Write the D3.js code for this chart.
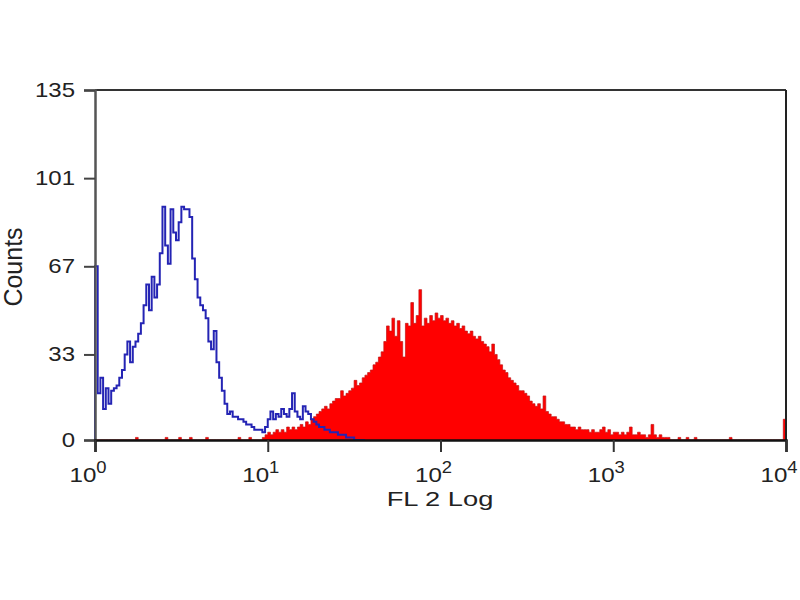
<!DOCTYPE html>
<html>
<head>
<meta charset="utf-8">
<script src="https://cdn.jsdelivr.net/npm/d3@7"></script>
<style>
  body { margin: 0; background: #fff; }
  svg { display: block; }
  text { font-family: "Liberation Sans", Arial, sans-serif; fill: #222; }
</style>
</head>
<body>
<svg id="chart" width="800" height="600"></svg>
<script>
// ---- data (256 log channels over 4 decades) ----
const nChannels = 256;
const yTicks = [0, 33, 67, 101, 135];
const xDecades = [0, 1, 2, 3, 4];
const xLabel = "FL 2 Log";
const yLabel = "Counts";

// Blue (control) histogram, channels 0..99
const blueCounts = [
  67, 18, 24, 12, 20, 14, 19, 20, 21, 24,
  27, 33, 38, 30, 36, 38, 41, 45, 52, 60,
  50, 63, 55, 60, 72, 90, 75, 68, 89, 80,
  77, 84, 90, 89, 89, 86, 70, 62, 55, 52,
  50, 47, 38, 35, 42, 30, 24, 19, 14, 10,
  11, 9, 9, 8, 8, 7, 6, 6, 5, 4,
  4, 4, 3, 5, 8, 11, 8, 10, 9, 12,
  10, 9, 12, 18, 11, 9, 8, 13, 11, 10,
  8, 7, 6, 5, 5, 4, 4, 3, 3, 3,
  2, 2, 2, 1, 1, 1, 0, 0, 0, 0
];

// Red (stained) histogram, channels 0..255
const redCounts = [
  0, 0, 0, 0, 0, 0, 0, 0, 0, 0,
  0, 0, 0, 0, 0, 1, 0, 0, 0, 0,
  0, 0, 0, 0, 0, 0, 1, 0, 0, 0,
  0, 1, 0, 0, 0, 1, 0, 0, 0, 0,
  0, 1, 0, 0, 0, 0, 0, 0, 0, 0,
  0, 0, 0, 1, 0, 0, 0, 1, 0, 0,
  0, 0, 1, 2, 3, 2, 3, 4, 3, 4,
  3, 5, 4, 5, 4, 5, 6, 5, 7, 6,
  8, 9, 10, 11, 12, 13, 12, 14, 15, 16,
  16, 19, 17, 18, 19, 20, 23, 21, 22, 24,
  25, 26, 27, 29, 30, 32, 34, 38, 44, 42,
  47, 40, 46, 38, 32, 45, 44, 53, 45, 48,
  58, 44, 47, 45, 48, 46, 49, 47, 48, 46,
  47, 45, 46, 44, 45, 43, 44, 42, 41, 42,
  40, 39, 40, 38, 37, 36, 34, 37, 33, 31,
  29, 27, 26, 24, 23, 22, 21, 19, 19, 18,
  17, 15, 14, 13, 14, 12, 17, 11, 10, 9,
  9, 8, 7, 7, 6, 6, 5, 5, 4, 5,
  4, 4, 4, 3, 4, 3, 3, 4, 5, 3,
  4, 2, 3, 3, 2, 3, 2, 3, 5, 2,
  2, 3, 2, 2, 1, 2, 6, 2, 1, 2,
  1, 1, 1, 0, 0, 0, 1, 0, 0, 1,
  0, 0, 1, 0, 0, 0, 0, 0, 0, 0,
  0, 0, 0, 0, 0, 1, 0, 0, 0, 0,
  0, 0, 0, 0, 0, 0, 0, 0, 0, 0,
  0, 0, 0, 0, 0, 8
];

// ---- layout ----
const svg = d3.select("#chart");
const plotL = 95, plotR = 786, plotT = 90, plotB = 440;

const x = d3.scaleLog().domain([1, 1e4]).range([plotL, plotR]);
const y = d3.scaleLinear().domain([0, 135]).range([plotB, plotT]);

// channel -> edge value
const edge = c => Math.pow(10, c * 4 / nChannels);

function stepPoints(arr) {
  const pts = [];
  arr.forEach((v, i) => {
    pts.push([edge(i), v]);
    pts.push([edge(i + 1), v]);
  });
  return pts;
}

// red filled histogram
const redPts = stepPoints(redCounts);
const area = d3.area()
  .x(d => x(d[0]))
  .y0(y(0))
  .y1(d => y(d[1]));
svg.append("path")
  .attr("d", area(redPts))
  .attr("fill", "#ff0000")
  .attr("stroke", "#c41414")
  .attr("stroke-width", 0.7);

// blue line histogram
const bluePts = [[edge(0), 0]].concat(stepPoints(blueCounts));
const line = d3.line()
  .x(d => x(d[0]))
  .y(d => y(d[1]));
svg.append("path")
  .attr("d", line(bluePts))
  .attr("fill", "none")
  .attr("stroke", "#2424b4")
  .attr("stroke-width", 2)
  .attr("stroke-linejoin", "miter");

// frame (top and right)
svg.append("line").attr("x1", plotL).attr("x2", plotR).attr("y1", plotT).attr("y2", plotT)
  .attr("stroke", "#333").attr("stroke-width", 2);
svg.append("line").attr("x1", plotR).attr("x2", plotR).attr("y1", plotT).attr("y2", plotB)
  .attr("stroke", "#222").attr("stroke-width", 2);

// left axis
const yAxis = d3.axisLeft(y).tickValues(yTicks).tickSize(11).tickPadding(8);
const gy = svg.append("g").attr("transform", `translate(${plotL},0)`).call(yAxis);
gy.select(".domain").attr("stroke", "#555").attr("stroke-width", 2.5);
gy.selectAll(".tick line").attr("stroke", "#444").attr("stroke-width", 2);
gy.selectAll(".tick text")
  .attr("x", 0)
  .attr("transform", "translate(-20,0) scale(1.2,1)")
  .style("font-family", '"Liberation Sans", Arial, sans-serif')
  .style("font-size", "20px").attr("fill", "#333");

// bottom axis
const xAxis = d3.axisBottom(x)
  .tickValues(xDecades.map(d => Math.pow(10, d)))
  .tickSize(12).tickFormat("");
const gx = svg.append("g").attr("transform", `translate(0,${plotB})`).call(xAxis);
gx.select(".domain").attr("stroke", "#111").attr("stroke-width", 2.5);
gx.selectAll(".tick line").attr("stroke", "#333").attr("stroke-width", 2);

// decade labels 10^n
xDecades.forEach(d => {
  const t = svg.append("text")
    .attr("transform", `translate(${x(Math.pow(10, d)) - 7},482) scale(1.15,1)`)
    .attr("text-anchor", "middle")
    .style("font-size", "21px")
    .attr("fill", "#333");
  t.append("tspan").text("10");
  t.append("tspan").text(String(d))
    .attr("dy", -9).style("font-size", "16px");
});

// axis titles
svg.append("text")
  .attr("transform", "translate(440,506) scale(1.3,1)")
  .attr("text-anchor", "middle")
  .style("font-size", "21px")
  .attr("fill", "#333")
  .text(xLabel);

svg.append("text")
  .attr("transform", "translate(22,267) rotate(-90)")
  .attr("text-anchor", "middle")
  .style("font-size", "25px")
  .attr("fill", "#333")
  .text(yLabel);
</script>
</body>
</html>
